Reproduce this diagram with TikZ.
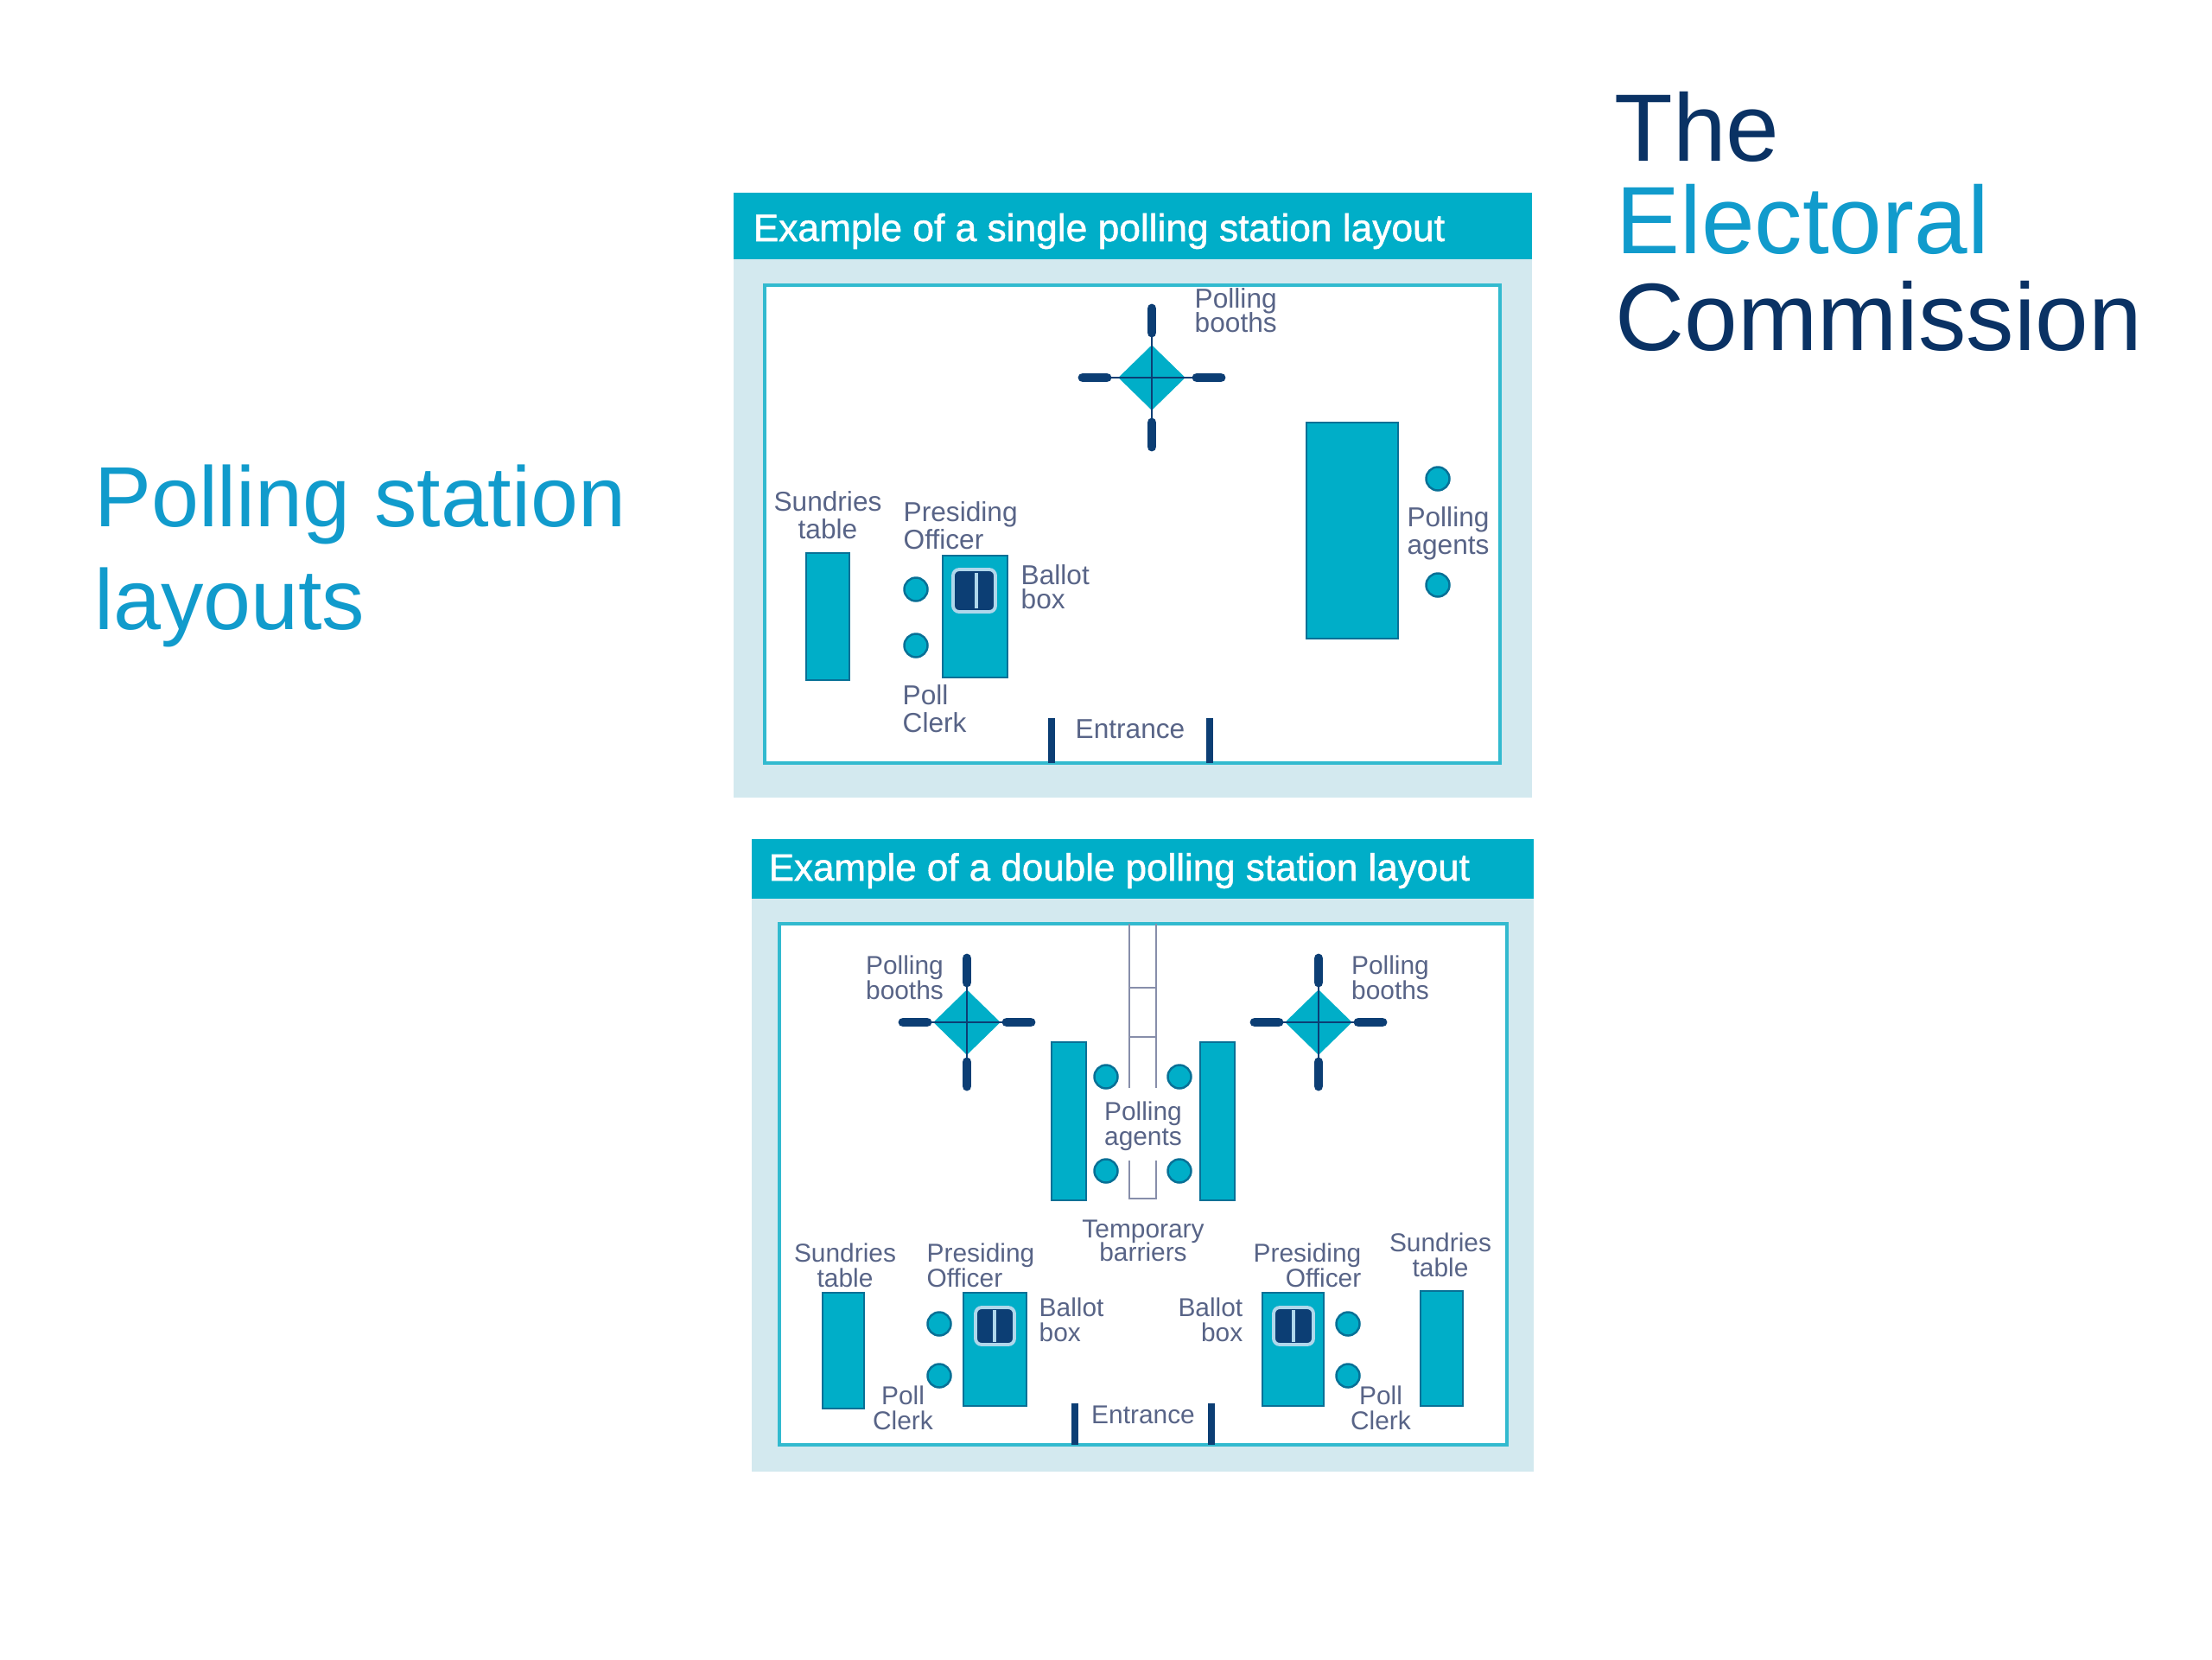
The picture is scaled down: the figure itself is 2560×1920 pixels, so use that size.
\documentclass[tikz,border=0pt]{standalone}
\usepackage{fontspec}
\setmainfont{Liberation Sans}
\newfontfamily\headfont{Liberation Sans}[BoldFont={Liberation Sans},BoldFeatures={FakeBold=1.2}]
\usetikzlibrary{positioning}
\usetikzlibrary{shapes.geometric}
\definecolor{teal}{RGB}{0,174,200}
\definecolor{pale}{RGB}{211,233,239}
\definecolor{navy}{RGB}{12,62,116}
\definecolor{edgeblue}{RGB}{8,112,150}
\definecolor{framecyan}{RGB}{50,186,207}
\definecolor{inkgrey}{RGB}{88,100,135}
\definecolor{logoblue}{RGB}{17,155,204}
\definecolor{logonavy}{RGB}{10,50,100}
\definecolor{slotblue}{RGB}{175,215,235}
\definecolor{railgrey}{RGB}{135,142,170}
\newcommand{\labelfont}[2]{\fontsize{#1}{#2}\selectfont\lineskiplimit=-9pt\relax}
\tikzset{
	lbl/.style={font=\labelfont{9}{9},text=inkgrey,inner sep=0pt,align=center},
	lblleft/.style={lbl,align=left,anchor=west},
	lblright/.style={lbl,align=right,anchor=east},
	small/.style={font=\labelfont{8.5}{8.3}},
	headline/.style={font=\headfont\bfseries\fontsize{12.6}{14}\selectfont,text=white,inner sep=0pt,anchor=base west},
	logotext/.style={font=\fontsize{31.5}{34}\selectfont,inner sep=0pt,anchor=base west},
	bigtext/.style={font=\fontsize{28.1}{30}\selectfont,text=logoblue,inner sep=0pt,anchor=base west},
	table box/.style={fill=teal,draw=edgeblue,line width=.8pt},
	seat/.style={shape=circle,draw=edgeblue,fill=teal,line width=.7pt,minimum size=.27cm,inner sep=0pt},
	booth/.style={shape=diamond,fill=teal,minimum width=.78cm,minimum height=.76cm,inner sep=0pt},
	wire/.style={draw=navy,line width=.8pt},
	bar/.style={draw=navy,line width=3.1pt,line cap=round},
	doorpost/.style={draw=navy,line width=2.4pt},
	rail/.style={draw=railgrey,line width=.8pt},
	ballot/.style={fill=navy,draw=slotblue,line width=1.1pt,rounded corners=2pt},
	slot/.style={draw=slotblue,line width=1pt},
	frame/.style={draw=framecyan,fill=white,line width=.9pt},
}
\begin{document}
\begin{tikzpicture}[x=.01cm,y=-.01cm]
	\useasboundingbox (0,0) rectangle (2560,1920);

	% page title and logo
	\node [bigtext] (page1) at (108.5,609) {Polling station};
	\node [bigtext] (page2) at (108.5,728) {layouts};
	\node [logotext,text=logonavy] (logo1) at (1868,186) {The};
	\node [logotext,text=logoblue] (logo2) at (1870,293) {Electoral};
	\node [logotext,text=logonavy] (logo3) at (1869,405) {Commission};

	% single layout
	\fill [pale] (849,223) rectangle (1773,923);
	\fill [teal] (849,223) rectangle (1773,300);
	\draw [frame] (885,330) rectangle (1736,883);
	\node [headline] (head1) at (871,279) {Example of a single polling station layout};

	\path [table box] (933,640) rectangle (983,787);
	\path [table box] (1091,643) rectangle (1166,784);
	\path [table box] (1512,489) rectangle (1618,739);
	\draw [ballot] (1103,659) rectangle (1152,708);
	\draw [slot] (1130,663) -- (1130,704);

	\node [seat] (seat1) at (1060,682) {};
	\node [seat] (seat2) at (1060,747) {};
	\node [seat] (seat3) at (1664,554) {};
	\node [seat] (seat4) at (1664,677) {};

	\node [lblleft,font=\labelfont{9}{8}] (boothtext) at (1382,359) {Polling\\booths};
	\node [lbl] (sundries) at (958,596) {Sundries\\table};
	\node [lblleft] (presiding) at (1045,608) {Presiding\\Officer};
	\node [lblleft,font=\labelfont{9}{8}] (ballot) at (1181,679) {Ballot\\box};
	\node [lblleft] (clerk) at (1044,820) {Poll\\Clerk};
	\node [lbl] (agents) at (1676,617) {Polling\\agents};
	\node [lbl] (entrance) at (1308,844) {Entrance};

	\draw [doorpost] (1217,831) -- (1217,883);
	\draw [doorpost] (1400,831) -- (1400,883);

	% double layout
	\fill [pale] (870,971) rectangle (1775,1703);
	\fill [teal] (870,971) rectangle (1775,1040);
	\draw [frame] (902,1069) rectangle (1744,1672);
	\node [headline,font=\headfont\bfseries\fontsize{12.5}{14}\selectfont] (head2) at (889,1019) {Example of a double polling station layout};

	\draw [rail] (1307,1069) -- (1307,1259);
	\draw [rail] (1338,1069) -- (1338,1259);
	\draw [rail] (1307,1143) -- (1338,1143);
	\draw [rail] (1307,1200) -- (1338,1200);
	\draw [rail] (1307,1343) -- (1307,1387) -- (1338,1387) -- (1338,1343);

	\path [table box] (1217,1206) rectangle (1257,1389);
	\path [table box] (1389,1206) rectangle (1429,1389);
	\path [table box] (952,1496) rectangle (1000,1630);
	\path [table box] (1115,1496) rectangle (1188,1627);
	\path [table box] (1461,1496) rectangle (1532,1627);
	\path [table box] (1644,1494) rectangle (1693,1627);
	\draw [ballot] (1129,1513) rectangle (1174,1556);
	\draw [slot] (1151,1516) -- (1151,1553);
	\draw [ballot] (1474,1513) rectangle (1520,1556);
	\draw [slot] (1497,1516) -- (1497,1553);

	\foreach \name/\cx/\cy in {a/1280/1246,b/1365/1246,c/1280/1355,d/1365/1355,e/1087/1532,f/1087/1592,g/1560/1532,h/1560/1592}
		\node [seat] (seat\name) at (\cx,\cy) {};

	\node [lbl,small] (booths2) at (1047,1131) {Polling\\booths};
	\node [lbl,small] (booths3) at (1609,1131) {Polling\\booths};
	\node [lbl,small] (agents2) at (1323,1303) {Polling\\agents};
	\node [lbl,small,font=\labelfont{8.5}{7.8}] (barriers) at (1323,1436) {Temporary\\barriers};
	\node [lbl,small] (sundries2) at (978,1464) {Sundries\\table};
	\node [lbl,small] (sundries3) at (1667,1452) {Sundries\\table};
	\node [lblleft,small] (presiding2) at (1072,1464) {Presiding\\Officer};
	\node [lblright,small] (presiding3) at (1576,1464) {Presiding\\Officer};
	\node [lblleft,small] (ballot2) at (1202,1527) {Ballot\\box};
	\node [lblright,small] (ballot3) at (1439,1527) {Ballot\\box};
	\node [lbl,small] (clerk2) at (1045,1629) {Poll\\Clerk};
	\node [lbl,small] (clerk3) at (1598,1629) {Poll\\Clerk};
	\node [lbl,small] (entrance2) at (1323,1637) {Entrance};

	\draw [doorpost] (1244,1624) -- (1244,1672);
	\draw [doorpost] (1402,1624) -- (1402,1672);

	% booths: name, centre, tip of the arm, start of the bar
	\foreach \name/\cx/\cy/\tip/\start in {p/1333/437/80/52,q/1119/1183/74/46,r/1526/1183/74/46}{
		\node [booth] (\name) at (\cx,\cy) {};
		\coordinate (\name n) at (\cx,\cy-\tip);
		\coordinate (\name s) at (\cx,\cy+\tip);
		\coordinate (\name w) at (\cx-\tip,\cy);
		\coordinate (\name e) at (\cx+\tip,\cy);
		\draw [wire] (\name n) -- (\name s);
		\draw [wire] (\name w) -- (\name e);
		\draw [bar] (\name n) -- (\cx,\cy-\start);
		\draw [bar] (\name s) -- (\cx,\cy+\start);
		\draw [bar] (\name w) -- (\cx-\start,\cy);
		\draw [bar] (\name e) -- (\cx+\start,\cy);
	}
\end{tikzpicture}
\end{document}
